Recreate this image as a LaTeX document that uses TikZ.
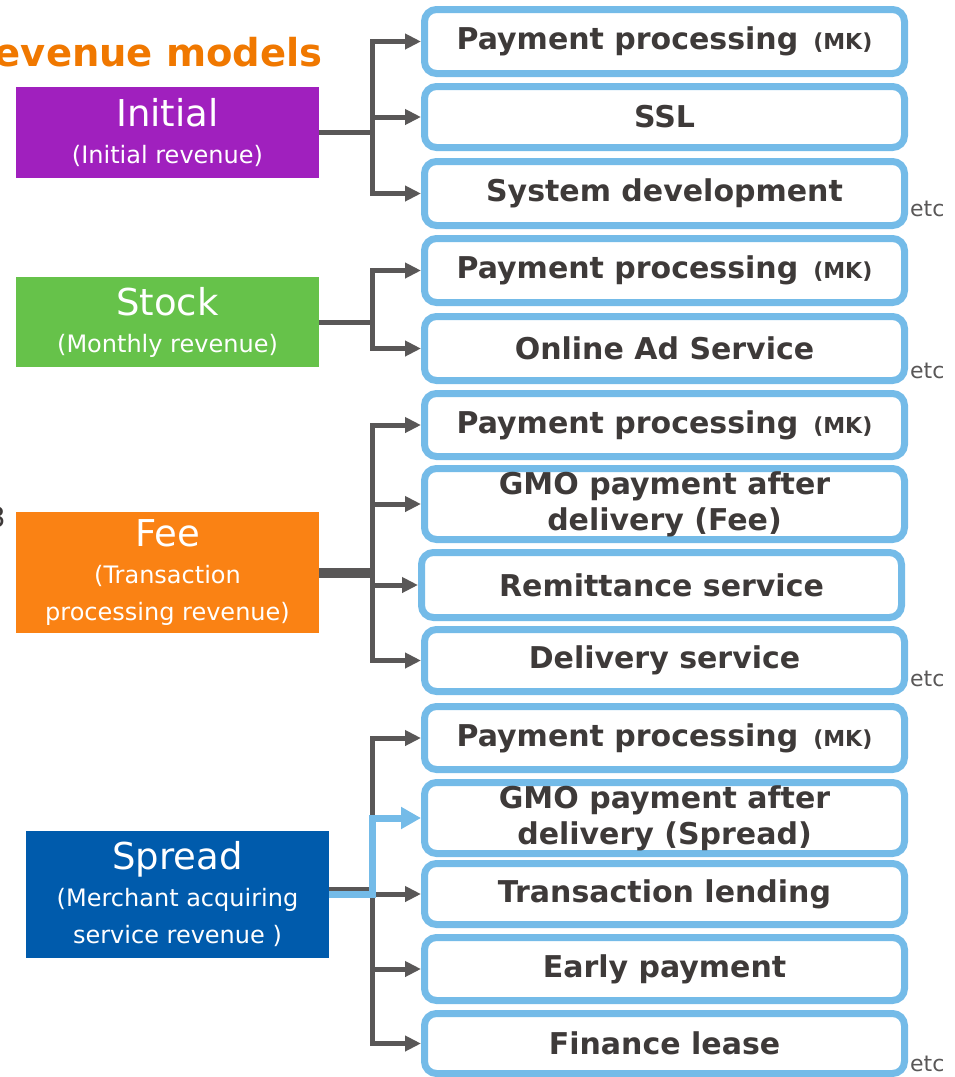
\documentclass[tikz,border=0pt]{standalone}
\usepackage{fontspec}
\setmainfont{DejaVu Sans}
\usetikzlibrary{arrows.meta}
\definecolor{titleorange}{RGB}{240,120,0}
\definecolor{initpurple}{RGB}{160,32,190}
\definecolor{stockgreen}{RGB}{102,194,74}
\definecolor{feeorange}{RGB}{250,130,20}
\definecolor{spreadblue}{RGB}{0,91,172}
\definecolor{itemblue}{RGB}{116,187,232}
\definecolor{itemtext}{RGB}{62,58,57}
\definecolor{linkgray}{RGB}{89,87,87}
\newcommand{\mk}{\enspace{\fontsize{22}{22}\selectfont(MK)}}
\newcommand{\sub}[1]{{\fontsize{24}{31}\selectfont #1}}
\tikzset{
  model/.style={minimum width=303pt, inner sep=0pt, text=white, align=center,
    font=\fontsize{37}{37}\selectfont},
  item/.style={draw=itemblue, line width=7pt, rounded corners=12pt, fill=white,
    minimum width=480pt, inner sep=0pt, text=itemtext, align=center,
    font=\bfseries\fontsize{30}{36}\selectfont},
  link/.style={draw=linkgray, line width=5pt},
  tip/.style={-{Triangle[length=16pt,width=15pt]}},
  etcnote/.style={anchor=base west, inner sep=0pt, text=linkgray,
    font=\fontsize{22}{22}\selectfont}
}
\begin{document}
\begin{tikzpicture}[x=1pt,y=-1pt]
  \useasboundingbox (0,0) rectangle (955,1077);
  \node[anchor=base east, inner sep=0pt, text=titleorange,
    font=\bfseries\fontsize{38.5}{38.5}\selectfont] (title) at (323,66) {Revenue models};
  \node[anchor=base east, inner sep=0pt, text=itemtext,
    font=\fontsize{28}{28}\selectfont] (cut) at (6,527) {3};

  \node[model, fill=initpurple, minimum height=91pt] (init) at (167.5,132.5)
    {Initial\\\sub{(Initial revenue)}};
  \node[model, fill=stockgreen, minimum height=90pt] (stock) at (167.5,322)
    {Stock\\\sub{(Monthly revenue)}};
  \node[model, fill=feeorange, minimum height=121pt] (fee) at (167.5,572.5)
    {Fee\\\sub{(Transaction}\\\sub{processing revenue)}};
  \node[model, fill=spreadblue, minimum height=127pt] (spread) at (177.5,894.5)
    {Spread\\\sub{(Merchant acquiring}\\\sub{service revenue )}};

  \foreach \n/\x/\y/\h/\t in {
      i1/664.5/41.5/64/{Payment processing\mk},
      i2/664.5/117/61/{SSL},
      i3/664.5/193.5/64/{System development},
      s1/664.5/270.5/64/{Payment processing\mk},
      s2/664.5/348.5/64/{Online Ad Service},
      f1/664.5/425/63/{Payment processing\mk},
      f2/664.5/504/71/{GMO payment after\\delivery (Fee)},
      f3/661.5/585/65/{Remittance service},
      f4/664.5/660.5/62/{Delivery service},
      p1/664.5/738/63/{Payment processing\mk},
      p2/664.5/818/71/{GMO payment after\\delivery (Spread)},
      p3/664.5/894/61/{Transaction lending},
      p4/664.5/969/63/{Early payment},
      p5/664.5/1043.5/60/{Finance lease}} {
    \node[item, minimum height=\h pt] (\n) at (\x,\y) {\t};
  }

  \node[etcnote] (etc1) at (910,216) {etc};
  \node[etcnote] (etc2) at (910,378) {etc};
  \node[etcnote] (etc3) at (910,686) {etc};
  \node[etcnote] (etc4) at (910,1071) {etc};

  \coordinate (bar) at (372,0);
  \draw[link] (init.east) -- (init.east -| bar);
  \foreach \t in {i1,i2,i3}
    \draw[link, tip] (init.east -| bar) |- (\t.west);
  \draw[link] (stock.east) -- (stock.east -| bar);
  \foreach \t in {s1,s2}
    \draw[link, tip] (stock.east -| bar) |- (\t.west);
  \draw[link, line width=10pt] (fee.east) -- (fee.east -| bar);
  \foreach \t in {f1,f2,f3,f4}
    \draw[link, tip] (fee.east -| bar) |- (\t.west);
  \draw[link] ([yshift=5pt]spread.east) -- ([yshift=5pt]spread.east -| bar);
  \foreach \t in {p1,p3,p4,p5}
    \draw[link, tip] (spread.east -| bar) |- (\t.west);
  \draw[draw=itemblue, line width=7pt, -{Triangle[length=20pt,width=21pt]}]
    (spread.east) -- (spread.east -| bar) |- (p2.west);
\end{tikzpicture}
\end{document}
